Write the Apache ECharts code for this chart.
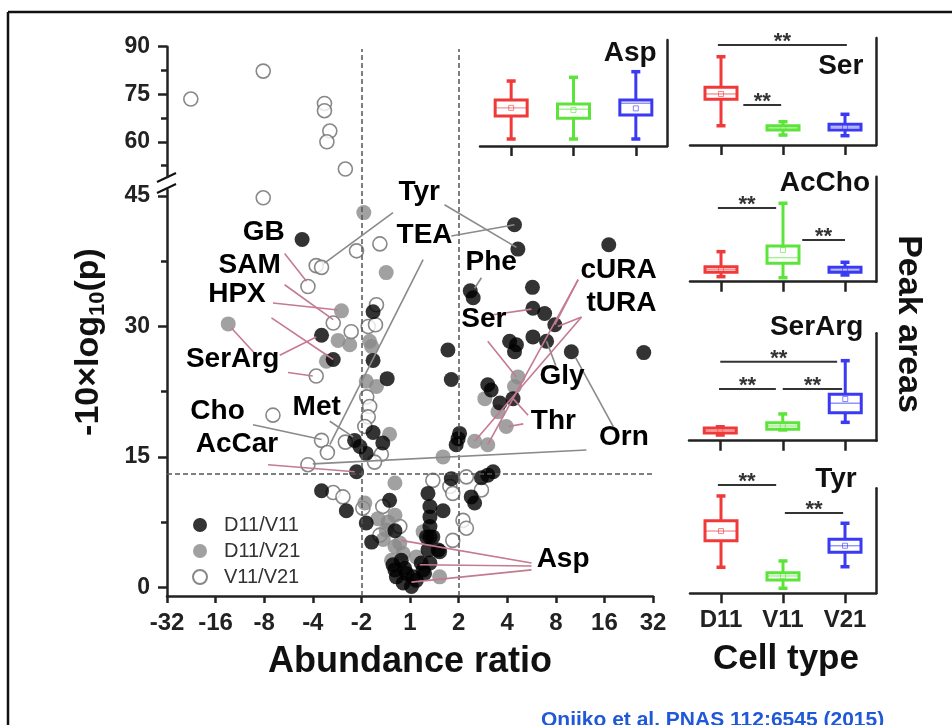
<!DOCTYPE html>
<html><head><meta charset="utf-8">
<script src="https://cdn.jsdelivr.net/npm/echarts@6/dist/echarts.min.js"></script>
<style>html,body{margin:0;padding:0;background:#fff}#c{width:952px;height:725px}</style>
</head><body><div id="c"></div>
<script>
const FONT = '"Liberation Sans", Arial, sans-serif';

// ---- Volcano plot: x = log2(abundance ratio), y = -10*log10(p) ----
const xTickLabels = ['-32','-16','-8','-4','-2','1','2','4','8','16','32'];
const yMajorLower = [0, 15, 30, 45];
const yMinorLower = [7.5, 22.5, 37.5];
const yMajorUpper = [60, 75, 90];
const yMinorUpper = [52.5, 67.5, 82.5];
const pThreshold = 13.01;       // p = 0.05
const foldLimits = [-1, 1];     // ratio -2 and 2
const seriesNames = ['D11/V11', 'D11/V21', 'V11/V21'];

const d11v11 = [
  [-2.22,40.0],[1.24,34.1],[1.30,33.3],[-0.76,31.7],[-1.82,29.0],[0.78,27.3],[-1.58,26.2],[-0.76,26.1],
  [-0.47,24.0],[-0.76,17.8],[-1.14,16.9],[-1.03,16.2],[-0.90,15.4],[-0.56,16.6],[-1.10,13.3],[-1.82,11.1],
  [-1.31,8.8],[-0.42,10.0],[-0.90,7.4],[-0.79,5.2],[-0.31,6.5],
  [-0.35,2.6],[-0.18,3.1],[-0.28,1.2],[-0.07,1.6],[0.03,0.1],[-0.14,0.5],[0.13,0.8],[-0.31,2.0],[-0.11,2.2],[0.06,1.2],
  [0.30,1.6],[0.27,2.0],[0.23,2.8],[0.41,2.8],[0.37,4.3],[0.58,4.3],[0.41,5.8],[0.34,5.8],[0.47,5.8],[0.41,7.0],
  [0.41,8.1],[0.41,9.3],[0.37,10.8],[0.61,4.1],[0.68,8.8],[0.85,12.5],
  [0.85,23.9],[1.02,17.7],[0.95,16.4],[0.99,17.1],[1.26,10.4],[1.33,9.7],[1.47,12.6],[1.60,12.9],[1.71,13.3],
  [2.15,41.7],[2.22,38.9],[4.09,39.4],[2.52,34.5],[2.53,32.1],[2.77,31.5],[2.98,30.2],[2.53,28.8],[2.81,28.3],
  [2.05,28.3],[2.15,27.1],[2.19,27.9],[3.32,27.1],[4.81,27.0],[1.60,23.3],[1.67,22.7],[1.85,21.2],[2.12,21.7]
];
const d11v21 = [
  [-0.95,43.1],[-0.49,36.2],[-1.41,31.8],[-3.74,30.3],[-1.48,28.4],[-1.24,27.9],[-0.83,28.3],[-0.79,27.7],
  [-1.72,26.0],[-0.90,23.7],[-0.69,23.1],[-0.42,17.6],[-0.31,12.0],[-0.93,9.7],[-0.66,7.9],[-0.45,7.5],
  [-0.31,8.3],[-0.49,6.6],[-0.31,4.7],[-0.21,5.1],[-0.38,3.1],[-0.14,3.9],[0.13,3.5],[0.27,6.4],[0.61,1.2],
  [0.68,15.0],[1.33,16.8],[1.60,16.4],[2.22,24.2],[2.15,23.1],[1.54,21.7],[1.81,20.2],[1.98,18.5],[-0.55,5.5]
];
const v11v21 = [
  [-4.51,73.5],[-3.02,82.3],[-1.76,72.1],[-1.76,69.8],[-1.65,63.4],[-1.71,60.0],[-1.33,51.4],
  [-3.02,44.8],[-1.10,38.7],[-0.62,39.5],[-1.93,37.0],[-1.82,36.8],[-2.10,34.6],[-0.69,32.5],
  [-1.58,30.4],[-0.86,30.0],[-0.71,30.2],[-1.21,29.4],[-1.93,24.3],[-0.89,21.9],[-0.83,20.8],[-0.86,19.6],
  [-0.93,18.5],[-2.82,19.8],[-1.82,16.9],[-1.70,15.5],[-1.33,16.7],[-0.59,15.3],[-0.73,14.4],[-2.10,14.1],
  [-1.58,10.9],[-1.38,10.4],[-0.56,9.3],[-0.97,9.1],[-0.62,6.0],[-0.21,7.0],
  [0.47,12.3],[0.82,11.6],[0.88,10.8],[1.09,7.7],[1.16,6.8],[0.88,5.4],[1.16,12.7],[1.47,11.2]
];

// annotation names and their anchor points (data space)
const annotNames = ['Tyr','TEA','GB','SAM','HPX','SerArg','Cho','AcCar','Met','Phe','Ser','cURA','tURA','Gly','Thr','Orn','Asp'];
const annotPos = [[0.19,45.4],[0.30,40.45],[-3.01,40.8],[-3.30,37.0],[-3.56,33.75],[-3.65,26.2],[-3.96,20.3],[-3.56,16.5],
  [-1.92,20.7],[1.67,37.4],[1.52,30.8],[4.29,36.5],[4.35,32.7],[3.13,24.3],[2.95,19.1],[4.40,17.2],[3.15,3.25]];
// leader lines: [x1,y1,x2,y2, kind] kind g = grey, p = pink
const leaderLines = [
  [-0.35,43.1,-1.76,37.3,'g'],[0.71,44.0,2.19,39.1,'g'],[0.85,40.4,2.15,41.7,'g'],[0.27,37.7,-1.65,16.4,'g'],
  [-2.58,38.4,-2.13,35.2,'p'],[-2.58,34.8,-1.58,30.8,'p'],[-2.82,32.7,-1.48,31.9,'p'],[-2.85,31.0,-1.58,26.2,'p'],
  [-3.67,29.8,-3.16,26.7,'p'],[-2.68,26.7,-1.93,28.8,'p'],[-2.51,24.7,-2.0,24.3,'p'],
  [-3.23,18.7,-1.82,17.0,'g'],[-1.65,19.1,-1.17,17.3,'g'],[-2.92,14.1,-1.14,13.3,'p'],
  [3.63,15.8,-2.0,14.2,'g'],[3.41,26.4,4.18,18.5,'g'],[2.81,28.3,3.0,25.5,'g'],
  [2.33,18.8,2.02,18.5,'p'],[2.43,19.8,2.12,21.7,'p'],[1.64,31.3,2.50,32.0,'p'],[1.60,28.3,2.19,24.2,'p'],
  [3.46,35.4,2.98,30.2,'p'],[3.46,35.4,1.60,16.4,'p'],[3.53,31.1,3.04,30.0,'p'],[3.53,31.1,1.33,16.8,'p'],
  [2.50,2.8,-0.18,5.4,'p'],[2.50,2.45,0.20,2.6,'p'],[2.50,2.0,0.03,0.6,'p'],[1.47,35.6,1.33,34.4,'g']
];

// ---- Box panels (peak areas, relative panel scale 0-100) ----
const cellTypes = ['D11','V11','V21'];
const panelNames = ['Asp','Ser','AcCho','SerArg','Tyr'];
// each box: [low whisker, Q1, median, Q3, high whisker, mean]
const aspBox    = [[6.6,28.3,36.0,43.4,61.3,36.0],[6.6,26.1,34.6,39.6,64.8,34.0],[6.6,29.2,40.3,43.4,70.1,35.5]];
const serBox    = [[18.0,42.7,47.7,53.9,82.5,47.7],[9.3,14.0,15.9,18.0,21.8,15.9],[8.7,14.0,16.8,19.3,28.7,16.8]];
const acchoBox  = [[4.8,9.0,11.6,14.3,28.6,11.6],[3.8,17.5,22.9,34.0,74.7,30.2],[6.4,9.0,11.1,13.7,18.5,11.1]];
const serargBox = [[5.3,7.2,9.5,11.8,13.0,9.5],[10.0,10.6,13.7,16.8,24.9,13.7],[17.1,26.1,34.8,43.2,74.5,38.8]];
const tyrBox    = [[24.8,50.1,59.3,69.1,92.7,59.3],[4.8,12.7,16.5,19.6,30.8,16.5],[25.3,39.0,45.3,51.4,66.7,45.3]];
// significance bars: [from, to, level]
const aspSig    = [];
const serSig    = [[-0.05,2.03,93.5],[0.36,0.97,37.4]];
const acchoSig  = [[-0.05,0.89,70.2],[1.31,2.0,39.7]];
const serargSig = [[0,1.87,73.6],[-0.02,0.89,48.1],[1.0,1.95,48.1]];
const tyrSig    = [[-0.05,0.89,103.1],[1.03,1.97,76.5]];
const sigText = '**';

const boxSets = [aspBox, serBox, acchoBox, serargBox, tyrBox];
const sigSets = [aspSig, serSig, acchoSig, serargSig, tyrSig];

// ---- layout / style ----
const AX = '#222';
const boxColors = ['#f03a3a', '#5ce43a', '#3a3af2'];
const panelGeo = [
  {left:480, top:40, width:187, height:106},
  {left:690, top:38, width:186, height:107},
  {left:690, top:176.7, width:186, height:105},
  {left:689, top:333.3, width:187.5, height:107.4},
  {left:690, top:488.3, width:186, height:105}
];
const titleGeo = [[656.7,53.3],[863.3,66],[870,183],[863.3,327.5],[856.7,479]];

const grids = [
  {left:167, top:46.7, width:486, height:130.3},
  {left:167, top:190, width:486, height:406},
  {left:167, top:49, width:486, height:547}
].concat(panelGeo).map(g => Object.assign({containLabel:false, outerBoundsMode:'none'}, g));

const axLine = {onZero:false, lineStyle:{color:AX, width:2.5}};
const noLine = {show:false, onZero:false};
const tickStyle = {color:AX, width:2.5};
const labelFont = {fontFamily:FONT, fontWeight:'bold', color:AX};

const xAxes = [
  {gridIndex:0, type:'value', min:-5, max:5, show:false},
  {gridIndex:1, type:'value', position:'bottom', min:-5, max:5, interval:1, axisLine:axLine,
   axisTick:{length:7, lineStyle:tickStyle}, splitLine:{show:false},
   axisLabel:Object.assign({fontSize:24, margin:15, formatter:v => xTickLabels[Math.round(v)+5]}, labelFont)},
  {gridIndex:2, type:'value', min:-5, max:5, show:false}
];
const yAxes = [
  {gridIndex:0, type:'value', position:'left', min:48.9, max:90, axisLine:axLine, splitLine:{show:false},
   axisTick:{customValues:yMajorUpper, length:9, lineStyle:tickStyle},
   axisLabel:Object.assign({customValues:yMajorUpper, fontSize:23, margin:17}, labelFont)},
  {gridIndex:0, type:'value', position:'left', min:48.9, max:90, axisLine:noLine, splitLine:{show:false},
   axisTick:{customValues:yMinorUpper, length:6, lineStyle:tickStyle}, axisLabel:{show:false}},
  {gridIndex:1, type:'value', position:'left', min:-1, max:45.7, axisLine:axLine, splitLine:{show:false},
   axisTick:{customValues:yMajorLower, length:9, lineStyle:tickStyle},
   axisLabel:Object.assign({customValues:yMajorLower, fontSize:23, margin:17}, labelFont)},
  {gridIndex:1, type:'value', position:'left', min:-1, max:45.7, axisLine:noLine, splitLine:{show:false},
   axisTick:{customValues:yMinorLower, length:6, lineStyle:tickStyle}, axisLabel:{show:false}},
  {gridIndex:2, type:'value', min:0, max:1, show:false}
];
panelGeo.forEach((g, i) => {
  xAxes.push({gridIndex:3+i, type:'value', position:'bottom', min:-0.5, max:2.5, axisLine:axLine, splitLine:{show:false},
    axisTick:{customValues:[0,1,2], length:10, lineStyle:tickStyle},
    axisLabel:Object.assign({show:i===4, customValues:[0,1,2], fontSize:24, margin:15,
      formatter:v => cellTypes[Math.round(v)]}, labelFont)});
  yAxes.push({gridIndex:3+i, type:'value', position:'right', min:0, max:100, axisLine:axLine,
    axisTick:{show:false}, axisLabel:{show:false}, splitLine:{show:false}});
});

const styles = {
  'D11/V11': {symbolSize:15, itemStyle:{color:'#000'}},
  'D11/V21': {symbolSize:15, itemStyle:{color:'#8a8a8a'}},
  'V11/V21': {symbolSize:14, itemStyle:{color:'#fff', borderColor:'#6a6a6a', borderWidth:1.6}}
};
const dataByName = {'D11/V11': d11v11, 'D11/V21': d11v21, 'V11/V21': v11v21};

const series = [];
['V11/V21','D11/V21','D11/V11'].forEach((name, k) => {
  const all = dataByName[name];
  series.push(Object.assign({name, type:'scatter', xAxisIndex:0, yAxisIndex:0, z:2+k,
    data: all.filter(p => p[1] > 46), emphasis:{disabled:true}}, styles[name]));
  series.push(Object.assign({name, type:'scatter', xAxisIndex:1, yAxisIndex:2, z:2+k,
    data: all.filter(p => p[1] <= 46), emphasis:{disabled:true}}, styles[name]));
});

// dashed guide lines
series.push({type:'scatter', xAxisIndex:2, yAxisIndex:4, data:[], z:1, silent:true,
  markLine:{symbol:['none','none'], silent:true, animation:false, label:{show:false},
    lineStyle:{color:'#555', width:1.5, type:[5,3]}, data: foldLimits.map(v => ({xAxis:v}))}});
series.push({type:'scatter', xAxisIndex:1, yAxisIndex:2, data:[], z:1, silent:true,
  markLine:{symbol:['none','none'], silent:true, animation:false, label:{show:false},
    lineStyle:{color:'#555', width:1.5, type:[5,3]}, data:[{yAxis:pThreshold}]}});
// leader lines
series.push({type:'scatter', xAxisIndex:1, yAxisIndex:2, data:[], z:1, silent:true,
  markLine:{symbol:['none','none'], silent:true, animation:false, label:{show:false},
    data: leaderLines.map(l => [
      {coord:[l[0], l[1]], lineStyle:{color: l[4]==='p' ? '#c47a90' : '#8a8a8a', width:1.6, type:'solid'}},
      {coord:[l[2], l[3]]}
    ])}});
// annotation texts
series.push({type:'custom', xAxisIndex:1, yAxisIndex:2, z:10, silent:true, clip:false,
  encode:{x:0, y:1},
  data: annotPos.map((p, i) => [p[0], p[1], i]),
  renderItem:(params, api) => {
    const pt = api.coord([api.value(0), api.value(1)]);
    return {type:'text', x:pt[0], y:pt[1], style:{text:annotNames[api.value(2)], fontSize:28, fontWeight:'bold',
      fontFamily:FONT, fill:'#000', align:'center', verticalAlign:'middle'}};
  }});

function renderBox(params, api) {
  const xi = api.value(0);
  const pLow = api.coord([xi, api.value(1)]), pQ1 = api.coord([xi, api.value(2)]),
        pMed = api.coord([xi, api.value(3)]), pQ3 = api.coord([xi, api.value(4)]),
        pHigh = api.coord([xi, api.value(5)]), pMean = api.coord([xi, api.value(6)]);
  const c = boxColors[xi], cx = pLow[0], hw = 16, cap = 4.5, lw = 3;
  return {type:'group', children:[
    {type:'line', shape:{x1:cx, y1:pLow[1], x2:cx, y2:pHigh[1]}, style:{stroke:c, lineWidth:lw}},
    {type:'line', shape:{x1:cx-cap, y1:pLow[1], x2:cx+cap, y2:pLow[1]}, style:{stroke:c, lineWidth:lw+0.5}},
    {type:'line', shape:{x1:cx-cap, y1:pHigh[1], x2:cx+cap, y2:pHigh[1]}, style:{stroke:c, lineWidth:lw+0.5}},
    {type:'rect', shape:{x:cx-hw, y:pQ3[1], width:2*hw, height:Math.max(pQ1[1]-pQ3[1], 1)},
      style:{fill:'#fff', stroke:c, lineWidth:lw}},
    {type:'line', shape:{x1:cx-hw, y1:pMed[1], x2:cx+hw, y2:pMed[1]}, style:{stroke:c, lineWidth:1.4, opacity:0.55}},
    {type:'rect', shape:{x:cx-2.5, y:pMean[1]-2.5, width:5, height:5}, style:{fill:'none', stroke:c, lineWidth:1, opacity:0.6}}
  ]};
}
function renderSig(params, api) {
  const a = api.coord([api.value(0), api.value(2)]);
  const b = api.coord([api.value(1), api.value(2)]);
  return {type:'group', children:[
    {type:'line', shape:{x1:a[0], y1:a[1], x2:b[0], y2:b[1]}, style:{stroke:'#333', lineWidth:2}},
    {type:'text', x:(a[0]+b[0])/2, y:a[1]-3, style:{text:sigText, fontSize:22, fontWeight:'bold', fontFamily:FONT,
      fill:'#333', align:'center', verticalAlign:'middle'}}
  ]};
}
boxSets.forEach((boxes, i) => {
  series.push({type:'custom', xAxisIndex:3+i, yAxisIndex:5+i, clip:false, silent:true,
    renderItem:renderBox, encode:{x:0, y:[1,2,3,4,5]},
    data: boxes.map((b, k) => [k].concat(b))});
  if (sigSets[i].length) series.push({type:'custom', xAxisIndex:3+i, yAxisIndex:5+i, clip:false, silent:true,
    renderItem:renderSig, encode:{x:[0,1], y:2}, data: sigSets[i]});
});

const txt = (text, x, y, size, extra) => Object.assign({type:'text', x, y, silent:true, z:100,
  style:{text, fontSize:size, fontWeight:'bold', fontFamily:FONT, fill:'#111', align:'center', verticalAlign:'middle'}}, extra || {});

const graphic = [
  {type:'line', silent:true, shape:{x1:8, y1:12, x2:952, y2:12}, style:{stroke:'#111', lineWidth:2.5}},
  {type:'line', silent:true, shape:{x1:8, y1:12, x2:8, y2:725}, style:{stroke:'#111', lineWidth:2.5}},
  {type:'line', silent:true, shape:{x1:157, y1:182, x2:176, y2:173}, style:{stroke:'#111', lineWidth:2}},
  {type:'line', silent:true, shape:{x1:157, y1:193, x2:176, y2:184}, style:{stroke:'#111', lineWidth:2}},
  txt('Abundance ratio', 410, 662, 36),
  txt('Cell type', 786, 659, 35),
  txt('Peak areas', 908, 324, 34, {rotation:-Math.PI/2}),
  {type:'text', x:89, y:342, rotation:Math.PI/2, silent:true, z:100,
   style:{text:'-10×log{s|10}(p)', fontSize:34, fontWeight:'bold', fontFamily:FONT, fill:'#111',
     align:'center', verticalAlign:'middle', lineHeight:40,
     rich:{s:{fontSize:22, fontWeight:'bold', fontFamily:FONT, fill:'#111', verticalAlign:'bottom', lineHeight:18}}}},
  {type:'text', x:541, y:720, silent:true, z:100,
   style:{text:'Onjiko et al. PNAS 112:6545 (2015)', fontSize:21, fontWeight:'bold', fontFamily:FONT,
     fill:'#1f58d8', align:'left', verticalAlign:'middle'}}
];
panelNames.forEach((n, i) => graphic.push(txt(n, titleGeo[i][0], titleGeo[i][1], 28, {style:{text:n, fontSize:28,
  fontWeight:'bold', fontFamily:FONT, fill:'#111', align:'right', verticalAlign:'middle'}})));

const chart = echarts.init(document.getElementById('c'), null, {renderer:'canvas'});
chart.setOption({
  animation:false,
  backgroundColor:'#fff',
  grid:grids, xAxis:xAxes, yAxis:yAxes, series,
  legend:{data:seriesNames, orient:'vertical', left:187, top:510, itemWidth:14, itemHeight:14, itemGap:6,
    selectedMode:false, icon:'circle',
    textStyle:{fontSize:20, color:'#333', fontFamily:FONT, lineHeight:20, padding:[0,0,0,12]}},
  graphic
});
</script></body></html>
